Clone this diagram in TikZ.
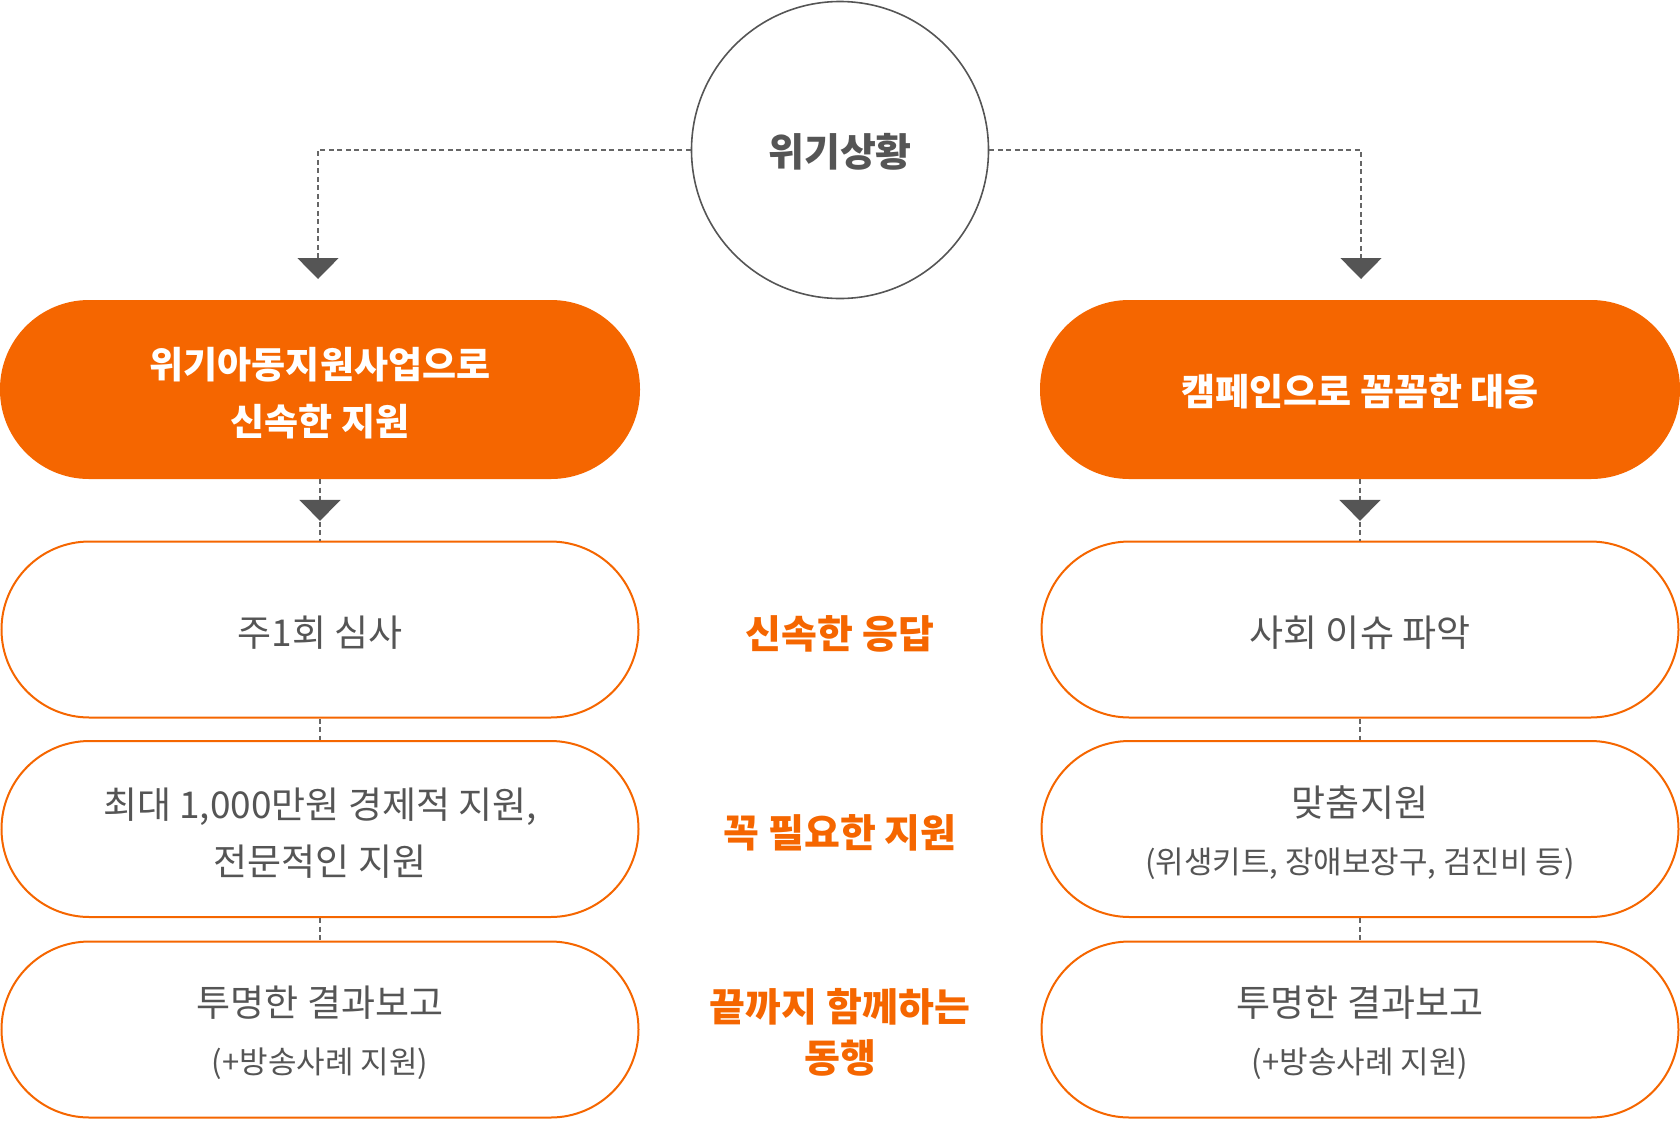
\documentclass[tikz,border=0pt]{standalone}
\usepackage{fontspec}
\setmainfont{Noto Sans CJK KR}
\usetikzlibrary{arrows.meta,decorations.markings}
\definecolor{brand}{HTML}{F56600}
\definecolor{ink}{HTML}{555555}
\definecolor{dashgray}{HTML}{666666}
\newcommand{\subsz}{\fontsize{31}{31}\selectfont}
\tikzset{
  pillbox/.style={rectangle, rounded corners=88pt, minimum width=637pt, minimum height=176pt, inner sep=0pt},
  orangepill/.style={pillbox, fill=brand, minimum width=640pt, minimum height=179pt, rounded corners=89pt},
  whitepill/.style={pillbox, draw=brand, line width=2pt, fill=white},
  orangetext/.style={align=center, text=white, font=\fontsize{37}{57}\selectfont\bfseries, inner sep=0pt},
  pilltext/.style={align=center, text=ink, font=\fontsize{37}{57}\selectfont, inner sep=0pt},
  midlabel/.style={text=brand, font=\fontsize{39}{51}\selectfont\bfseries, align=center},
  dashline/.style={draw=dashgray, line width=1.6pt, dash pattern=on 5pt off 3.5pt},
  tri/.style={-{Triangle[width=41pt,length=21pt,fill=ink,color=ink]}},
  midtri/.style={postaction={decorate}, decoration={markings, mark=at position #1 with {\arrow[solid]{Triangle[width=41pt,length=21pt,fill=ink,color=ink]}}}}
}
\begin{document}
\begin{tikzpicture}[x=1pt,y=-1pt]
\useasboundingbox (0,0) rectangle (1680,1120);
% top circle
\node[circle, draw=ink, line width=1.6pt, minimum size=297pt, inner sep=0pt] (circ) at (840,150) {};
\node[text=ink, font=\fontsize{39}{42}\selectfont\bfseries] (circt) at (840,152) {위기상황};
% orange pills
\node[orangepill] (L0) at (320,389.5) {};
\node[orangetext] (L0t) at (320,393) {위기아동지원사업으로\\신속한 지원};
\node[orangepill] (R0) at (1360,389.5) {};
\node[orangetext] (R0t) at (1360,392) {캠페인으로 꼼꼼한 대응};
% white pills left
\node[whitepill] (L1) at (320,629.5) {};
\node[pilltext] (L1t) at (320,633) {주1회 심사};
\node[whitepill] (L2) at (320,829) {};
\node[pilltext] (L2t) at (320,833) {최대 1,000만원 경제적 지원,\\전문적인 지원};
\node[whitepill] (L3) at (320,1029.5) {};
\node[pilltext] (L3t) at (320,1033) {투명한 결과보고\\{\subsz(+방송사례 지원)}};
% white pills right
\node[whitepill] (R1) at (1360,629.5) {};
\node[pilltext] (R1t) at (1360,633) {사회 이슈 파악};
\node[whitepill] (R2) at (1360,829) {};
\node[pilltext] (R2t) at (1360,833) {맞춤지원\\{\subsz(위생키트, 장애보장구, 검진비 등)}};
\node[whitepill] (R3) at (1360,1029.5) {};
\node[pilltext] (R3t) at (1360,1033) {투명한 결과보고\\{\subsz(+방송사례 지원)}};
% middle labels
\node[midlabel] (M1) at (840,634) {신속한 응답};
\node[midlabel] (M2) at (840,833) {꼭 필요한 지원};
\node[midlabel] (M3) at (840,1032) {끝까지 함께하는\\동행};
% top connectors
\coordinate (tipL) at (318,279);
\coordinate (tipR) at (1361,279);
\draw[dashline, tri] (circ.west) -| (tipL);
\draw[dashline, tri] (circ.east) -| (tipR);
% from orange pills down
\draw[dashline, midtri=0.68] (L0.south) -- (L1.north);
\draw[dashline, midtri=0.68] (R0.south) -- (R1.north);
% between white pills
\draw[dashline] (L1.south) -- (L2.north);
\draw[dashline] (L2.south) -- (L3.north);
\draw[dashline] (R1.south) -- (R2.north);
\draw[dashline] (R2.south) -- (R3.north);
\end{tikzpicture}
\end{document}
